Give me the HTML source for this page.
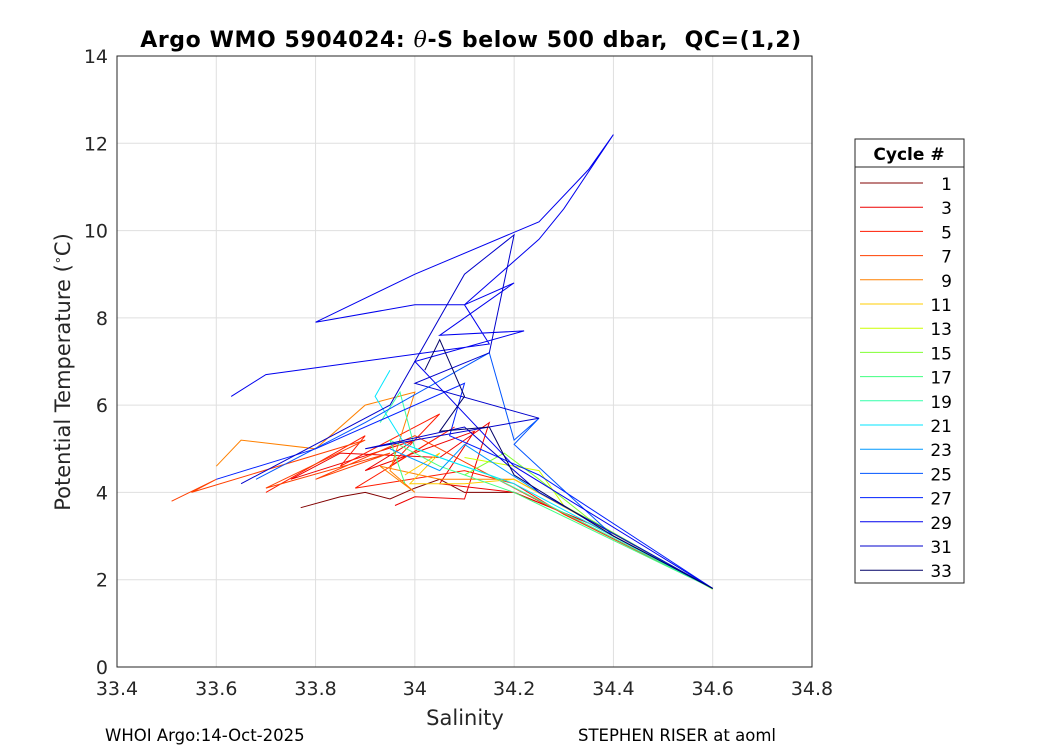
<!DOCTYPE html>
<html><head><meta charset="utf-8">
<style>
body{margin:0;background:#fff;}
svg{display:block;font-family:"DejaVu Sans","Liberation Sans",sans-serif;}
</style></head>
<body>
<svg id="chart" width="1050" height="750">
<rect width="1050" height="750" fill="#fff"/>
<g id="grid"></g>
<g id="lines"></g>
<rect x="117" y="56" width="695" height="611" fill="none" stroke="#262626" stroke-width="1"/>
<g id="ticks"></g>
<text x="471" y="47" text-anchor="middle" font-size="22" letter-spacing="0.6" font-weight="bold" xml:space="preserve" style="white-space:pre">Argo WMO 5904024: <tspan font-style="italic" font-weight="normal" font-family="DejaVu Serif, serif">θ</tspan>-S below 500 dbar,  QC=(1,2)</text>
<text x="465" y="725" text-anchor="middle" font-size="21" fill="#262626">Salinity</text>
<text transform="translate(70,372) rotate(-90)" text-anchor="middle" font-size="21" fill="#262626">Potential Temperature (<tspan dy="-8" font-size="13">∘</tspan><tspan dy="8">C)</tspan></text>
<text x="105" y="741" font-size="16.5">WHOI Argo:14-Oct-2025</text>
<text x="578" y="741" font-size="16.5">STEPHEN RISER at aoml</text>
<g id="legend">
<rect x="855" y="139" width="109" height="444" fill="#fff" stroke="#262626"/>
<line x1="855" y1="167" x2="964" y2="167" stroke="#262626"/>
<text x="909" y="160" text-anchor="middle" font-size="17" font-weight="bold">Cycle #</text>
</g>
</svg>
<script>
const cycles=[1,3,5,7,9,11,13,15,17,19,21,23,25,27,29,31,33];
const colors=["#800000","#ee0000","#ff1a00","#ff4000","#ff8000","#ffcc00","#ccff00","#80ff33","#40ff80","#33ffaa","#00e6ff","#0099ff","#0055ff","#0020ff","#0000ee","#0000cc","#000066"];
const xTicks=[33.4,33.6,33.8,34,34.2,34.4,34.6,34.8];
const xTickLabels=["33.4","33.6","33.8","34","34.2","34.4","34.6","34.8"];
const yTicks=[0,2,4,6,8,10,12,14];
const sal1=[33.77,33.85,33.9,33.95,34.0,34.05,34.1,34.2,34.35,34.6];
const tem1=[3.65,3.9,4.0,3.85,4.1,4.3,4.0,4.0,3.3,1.8];
const sal3=[33.96,34.0,34.1,34.15,34.05,33.85,33.75,34.0,33.9,34.12,34.05,34.2,34.35,34.6];
const tem3=[3.7,3.9,3.85,5.6,4.8,4.9,4.3,5.2,4.5,5.4,4.2,4.0,3.3,1.8];
const sal5=[33.7,33.9,33.85,34.05,33.95,34.08,33.88,34.1,34.2,34.3,34.6];
const tem5=[4.0,5.3,4.6,5.8,4.6,5.5,4.1,4.5,4.2,3.5,1.8];
const sal7=[33.51,33.6,33.55,33.9,33.7,33.95,33.8,34.0,34.1,34.25,34.6];
const tem7=[3.8,4.3,4.0,5.2,4.1,4.9,4.3,5.3,4.7,3.8,1.8];
const sal9=[33.6,33.65,33.8,33.9,34.0,33.95,34.0,33.93,34.05,34.2,34.6];
const tem9=[4.6,5.2,5.0,6.0,6.3,4.5,4.0,4.6,4.3,4.3,1.8];
const sal11=[33.98,34.05,33.99,34.1,34.2,34.6];
const tem11=[4.4,4.9,4.2,4.2,4.3,1.8];
const sal13=[34.1,34.25,34.3,34.6];
const tem13=[4.8,4.5,3.7,1.8];
const sal15=[34.1,34.18,34.25,34.35,34.6];
const tem15=[4.4,4.9,4.3,3.4,1.78];
const sal17=[33.98,33.95,34.05,34.2,34.6];
const tem17=[4.2,5.2,4.6,4.0,1.8];
const sal19=[33.93,33.97,34.0,34.15,34.6];
const tem19=[5.6,6.3,5.0,4.4,1.8];
const sal21=[33.95,33.92,33.98,34.05,34.2,34.6];
const tem21=[6.8,6.2,5.1,4.8,4.2,1.8];
const sal23=[33.95,34.05,34.1,34.25,34.6];
const tem23=[5.0,4.5,5.1,4.0,1.8];
const sal25=[33.68,33.9,34.15,34.2,34.25,34.2,34.4,34.6];
const tem25=[4.3,5.6,7.2,5.2,5.7,5.1,3.0,1.8];
const sal27=[33.6,33.8,34.1,34.07,34.25,34.6];
const tem27=[4.3,5.0,6.5,5.3,4.4,1.8];
const sal29=[33.63,33.7,34.15,34.1,34.0,33.8,34.0,34.25,34.35,34.4,34.3,34.25,34.1,34.2,34.05,34.22,34.0,34.2,34.6];
const tem29=[6.2,6.7,7.4,8.3,8.3,7.9,9.0,10.2,11.4,12.2,10.5,9.8,8.3,8.8,7.6,7.7,7.0,4.6,1.8];
const sal31=[33.65,33.95,34.1,34.2,34.15,34.0,34.25,33.9,34.1,34.25,34.6];
const tem31=[4.2,6.0,9.0,9.9,7.2,6.5,5.7,5.0,5.5,4.0,1.8];
const sal33=[34.02,34.05,34.1,34.05,34.15,34.2,34.4,34.6];
const tem33=[6.8,7.5,6.2,5.4,5.5,4.4,3.0,1.8];
const salS=[sal1,sal3,sal5,sal7,sal9,sal11,sal13,sal15,sal17,sal19,sal21,sal23,sal25,sal27,sal29,sal31,sal33];
const temS=[tem1,tem3,tem5,tem7,tem9,tem11,tem13,tem15,tem17,tem19,tem21,tem23,tem25,tem27,tem29,tem31,tem33];

const NS="http://www.w3.org/2000/svg";
const X0=117,X1=812,Y0=667,Y1=56;
function xs(s){return X0+(s-33.4)/(34.8-33.4)*(X1-X0);}
function ys(t){return Y0-(t-0)/(14-0)*(Y0-Y1);}
function mk(tag,attrs,parent){const e=document.createElementNS(NS,tag);for(const k in attrs)e.setAttribute(k,attrs[k]);parent.appendChild(e);return e;}
const grid=document.getElementById('grid'),ticks=document.getElementById('ticks'),lines=document.getElementById('lines'),legend=document.getElementById('legend');
xTicks.forEach((v,i)=>{
  const x=xs(v);
  const g=mk('line',{x1:x,x2:x,y1:Y1,y2:Y0,stroke:'#dfdfdf','stroke-width':1},grid);
  
  
  const t=mk('text',{x:x,y:Y0+28,'text-anchor':'middle','font-size':19,fill:'#262626'},ticks);
  t.textContent=xTickLabels[i];
  
  
});
yTicks.forEach(v=>{
  const y=ys(v);
  const g=mk('line',{x1:X0,x2:X1,y1:y,y2:y,stroke:'#dfdfdf','stroke-width':1},grid);
  
  
  const t=mk('text',{x:X0-9,y:y+7,'text-anchor':'end','font-size':19,fill:'#262626'},ticks);
  t.textContent=String(v);
  
  
});
salS.forEach((sa,i)=>{
  const pts=sa.map((s,j)=>xs(s).toFixed(1)+','+ys(temS[i][j]).toFixed(1)).join(' ');
  const p=mk('polyline',{points:pts,fill:'none',stroke:colors[i],'stroke-width':1},lines);
  
  
  const ly=183+i*24.2;
  const l=mk('line',{x1:860,x2:923,y1:ly,y2:ly,stroke:colors[i],'stroke-width':1},legend);
  
  
  const t=mk('text',{x:952,y:ly+7,'text-anchor':'end','font-size':17},legend);
  t.textContent=String(cycles[i]);
  
  
});
</script>
</body></html>
